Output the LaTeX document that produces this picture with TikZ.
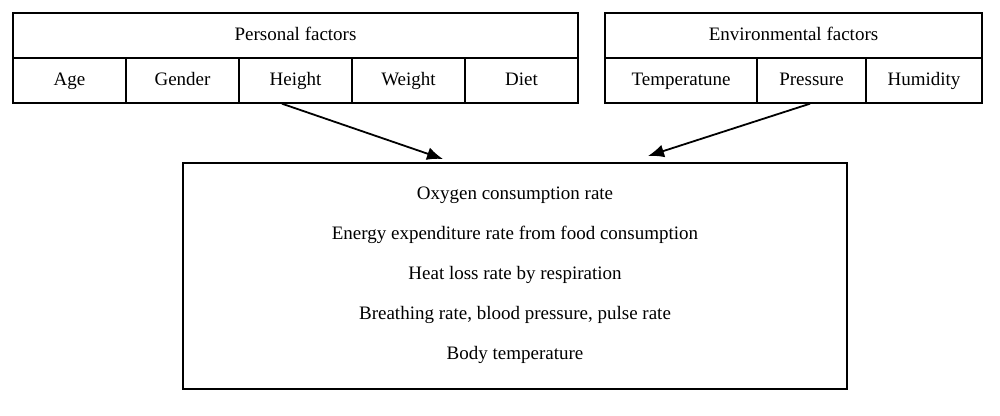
\documentclass[tikz,border=0pt]{standalone}
\usepackage{fontspec}
\setmainfont{Liberation Serif}
\usetikzlibrary{arrows.meta}
\begin{document}
\begin{tikzpicture}[x=1pt,y=-1pt,
  txt/.style={font=\fontsize{19}{22}\selectfont, text height=13pt, text depth=4pt, inner sep=0pt},
  cell/.style={txt, draw, line width=1.4pt, minimum height=45pt},
  arrow/.style={line width=1.8pt, -{Latex[length=16pt,width=13pt]}}]
\useasboundingbox (0,0) rectangle (1000,415);
% personal factors
\node[cell, minimum width=565pt] (personal) at (295.5,35.5) {Personal factors};
\foreach \name [count=\i] in {Age,Gender,Height,Weight,Diet}
  \node[cell, minimum width=113pt] (p\i) at (13+113*\i-56.5,80.5) {\name};
% environmental factors
\node[cell, minimum width=377pt] (env) at (793.5,35.5) {Environmental factors};
\node[cell, minimum width=152pt] (e1) at (681,80.5) {Temperatune};
\node[cell, minimum width=109pt] (e2) at (811.5,80.5) {Pressure};
\node[cell, minimum width=116pt] (e3) at (924,80.5) {Humidity};
% results
\node[draw, line width=1.4pt, minimum width=664pt, minimum height=226pt] (result) at (515,276) {};
\foreach \line [count=\i] in {Oxygen consumption rate,
  Energy expenditure rate from food consumption,
  Heat loss rate by respiration,
  {Breathing rate, blood pressure, pulse rate},
  Body temperature}
  \node[txt] (r\i) at (515,155+40*\i) {\line};
\coordinate (pin) at (443,159);
\coordinate (ein) at (648,156);
\draw[arrow] ([xshift=-13.5pt]p3.south) -- (pin);
\draw[arrow] ([xshift=-1.5pt]e2.south) -- (ein);
\end{tikzpicture}
\end{document}
